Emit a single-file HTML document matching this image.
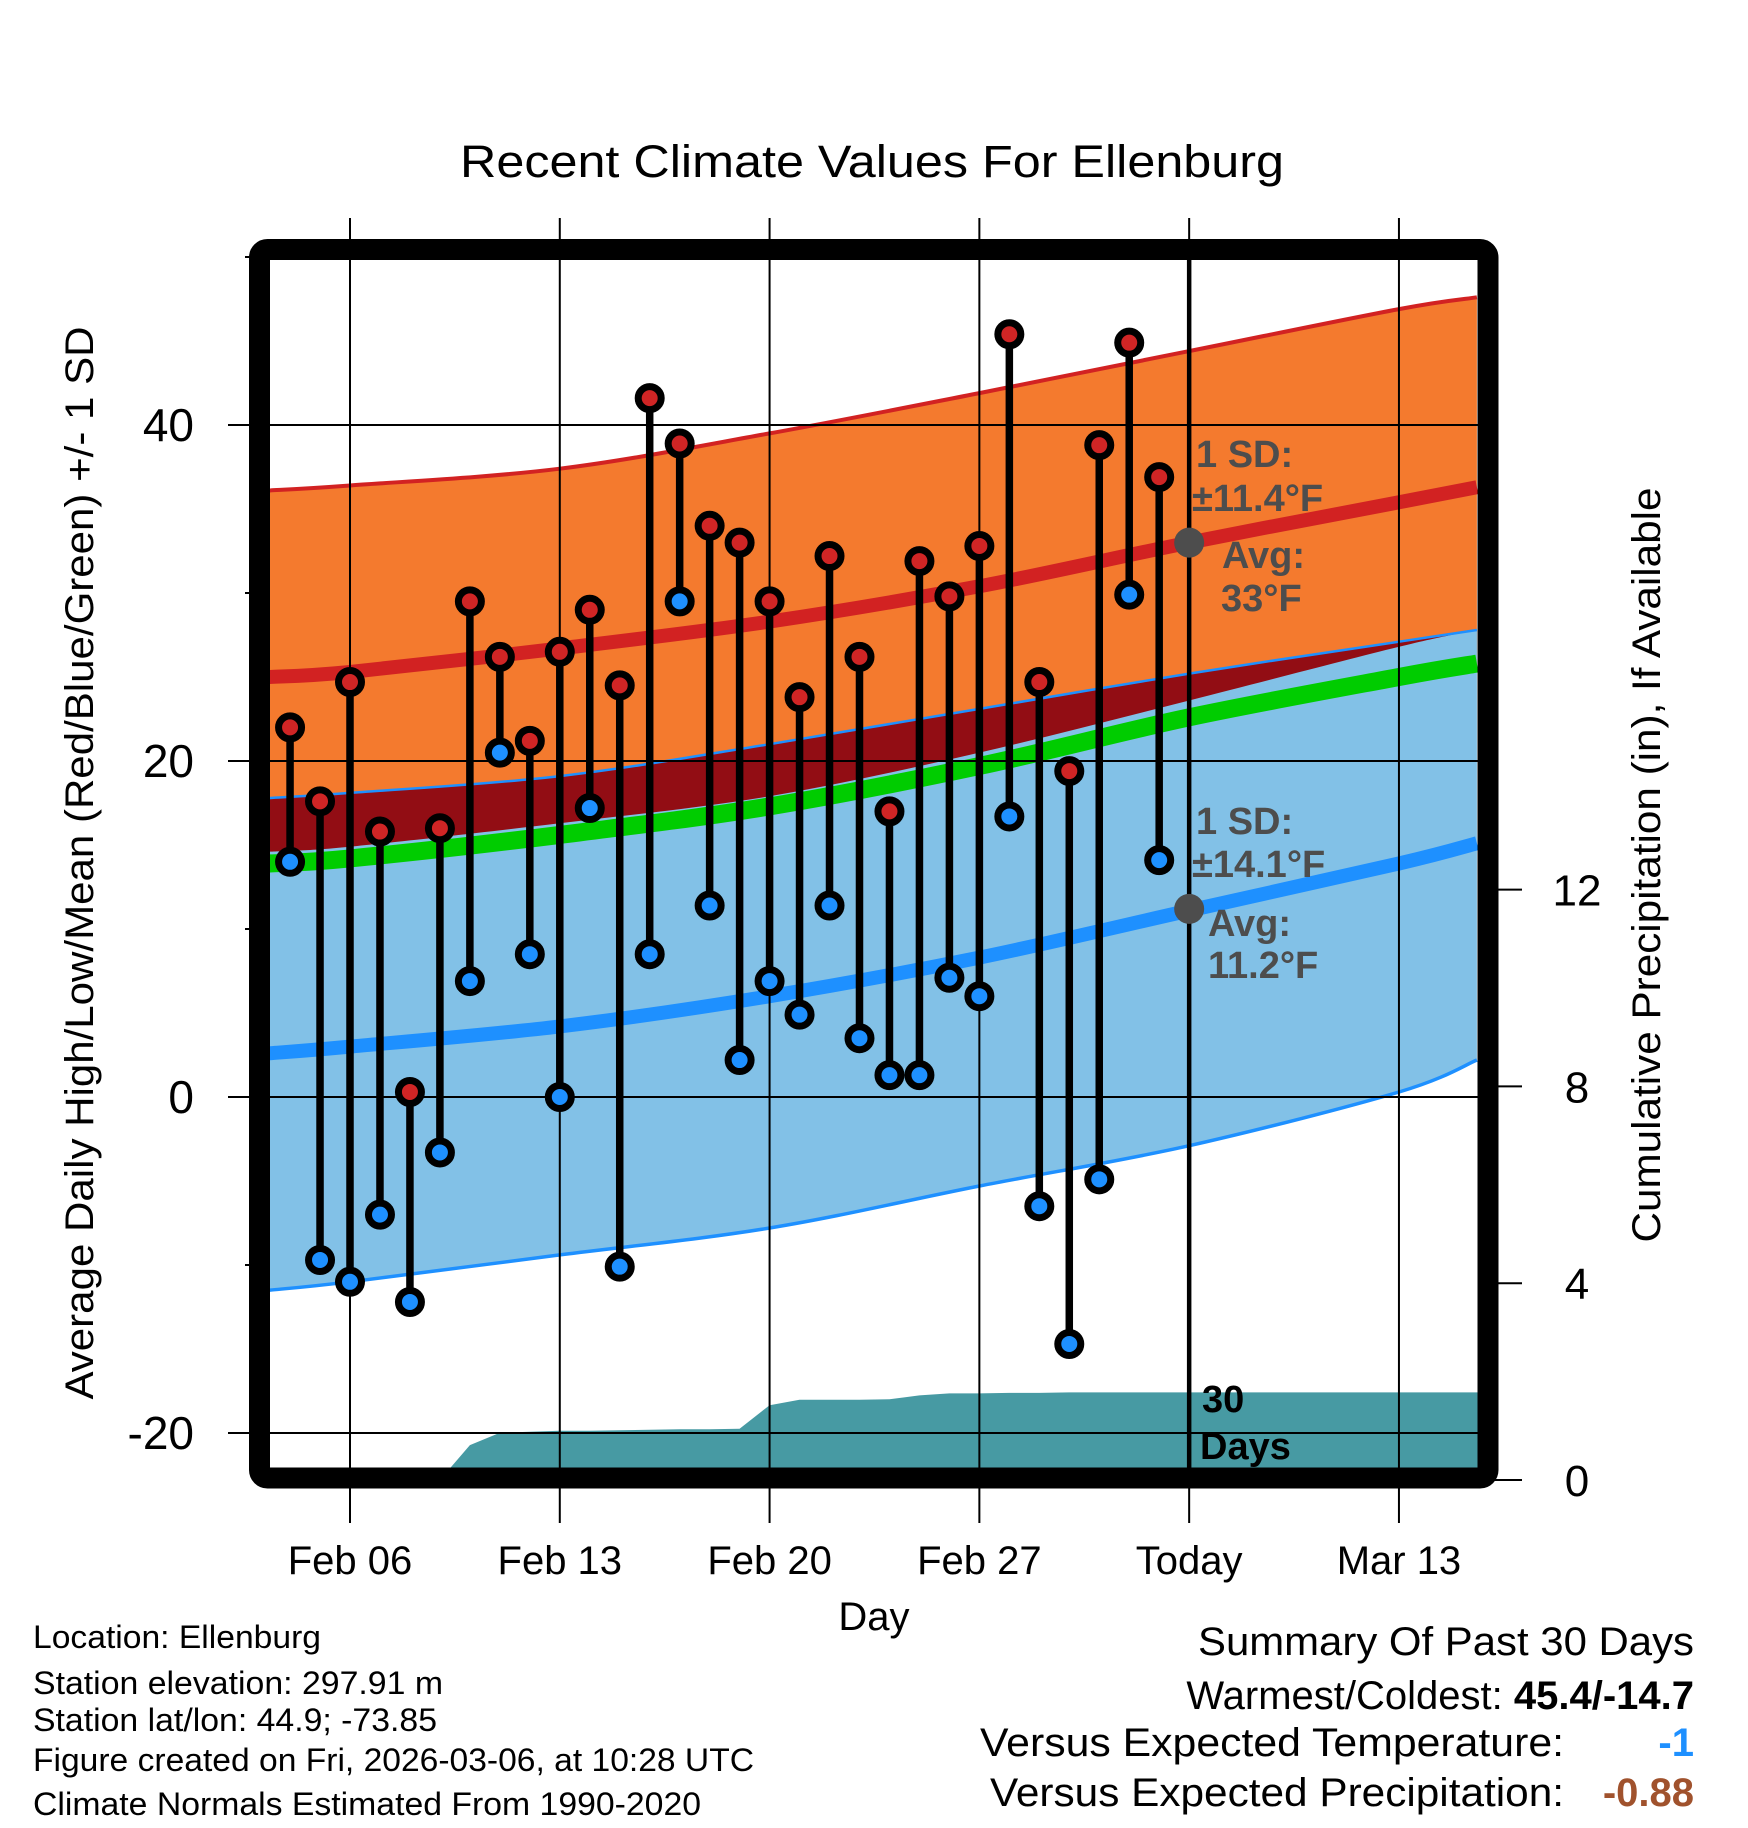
<!DOCTYPE html>
<html><head><meta charset="utf-8"><style>
html,body{margin:0;padding:0;background:#fff;}
svg{display:block;font-family:"Liberation Sans",Arial,sans-serif;}
</style></head><body>
<svg id="chart" xmlns="http://www.w3.org/2000/svg" width="1748" height="1828" viewBox="0 0 1748 1828">
<defs><clipPath id="plotclip"><rect x="270" y="260" width="1208" height="1208"/></clipPath></defs>
<rect width="1748" height="1828" fill="#fff"/>
<text x="872" y="177" font-size="45" text-anchor="middle" textLength="824" lengthAdjust="spacingAndGlyphs">Recent Climate Values For Ellenburg</text>
<g id="fills" clip-path="url(#plotclip)"></g>
<g id="grid"></g>
<g id="marks" clip-path="url(#plotclip)"></g>
<g id="frame"></g>
<g id="labels"></g>
</svg>
<script>
// ---- data ----
const dayLabels = ["Feb 04","Feb 05","Feb 06","Feb 07","Feb 08","Feb 09","Feb 10","Feb 11","Feb 12","Feb 13","Feb 14","Feb 15","Feb 16","Feb 17","Feb 18","Feb 19","Feb 20","Feb 21","Feb 22","Feb 23","Feb 24","Feb 25","Feb 26","Feb 27","Feb 28","Mar 01","Mar 02","Mar 03","Mar 04","Mar 05"];
const dayOffsets = [-2,-1,0,1,2,3,4,5,6,7,8,9,10,11,12,13,14,15,16,17,18,19,20,21,22,23,24,25,26,27];
const highs = [22.0,17.6,24.7,15.8,0.3,16.0,29.5,26.2,21.2,26.5,29.0,24.5,41.6,38.9,34.0,33.0,29.5,23.8,32.2,26.2,17.0,31.9,29.8,32.8,45.4,24.7,19.4,38.8,44.9,36.9];
const lows = [14.0,-9.7,-11.0,-7.0,-12.2,-3.3,6.9,20.5,8.5,0.0,17.2,-10.1,8.5,29.5,11.4,2.2,6.9,4.9,11.4,3.5,1.3,1.3,7.1,6.0,16.7,-6.5,-14.7,-4.9,29.9,14.1];
const normDays = [-2.7,0,7,14,21,28,35,37.6];
const highMean = [25.0,25.3,26.7,28.3,30.4,33.0,35.4,36.3];
const highUpper = [36.1,36.4,37.4,39.5,41.9,44.4,46.9,47.6];
const highLower = [13.9,14.2,15.6,17.3,19.7,22.6,25.0,25.8];
const overlapBottom = [14.6,14.9,16.3,17.9,20.5,23.6,26.8,27.8];
const lowMean = [2.6,3.0,4.2,6.0,8.3,11.1,13.9,15.1];
const lowLower = [-11.5,-11.0,-9.4,-7.8,-5.3,-2.9,0.3,2.2];
const lowUpper = [17.8,18.1,19.1,21.0,23.1,25.2,27.1,27.8];
const precipDays = [3,4,5,6,7,8,9,10,11,12,13,14,15,16,17,18,19,20,21,22,23,24,25,26,27,28,37.7];
const precipCum = [0,0.71,0.96,0.98,1.0,1.0,1.01,1.02,1.03,1.03,1.04,1.52,1.63,1.63,1.63,1.64,1.72,1.76,1.76,1.77,1.77,1.78,1.78,1.78,1.78,1.78,1.78];
const xTickDays = [0,7,14,21,28,35];
const xTickLabels = ["Feb 06","Feb 13","Feb 20","Feb 27","Today","Mar 13"];
const yTicks = [-20,0,20,40];
const yMinor = [-10,10,30,50];
const pTicks = [0,4,8,12];

// ---- scales ----
const X = d => 350 + d*29.97;
const Y = t => 1097 - t*16.8;
const P = p => 1480 - p*49.2;
const NS="http://www.w3.org/2000/svg";
function mk(tag, attrs, parent){const e=document.createElementNS(NS,tag);for(const k in attrs)e.setAttribute(k,attrs[k]);parent.appendChild(e);return e;}
const fills=document.getElementById('fills'), grid=document.getElementById('grid'), marks=document.getElementById('marks'), frame=document.getElementById('frame'), labels=document.getElementById('labels');
function smooth(arr, rev){
  let p=normDays.map((d,i)=>[X(d),Y(arr[i])]);
  if(rev) p=p.reverse();
  let s='';
  for(let i=0;i<p.length-1;i++){
    const p0=p[i-1]||p[i], p1=p[i], p2=p[i+1], p3=p[i+2]||p2;
    const c1=[p1[0]+(p2[0]-p0[0])/6, p1[1]+(p2[1]-p0[1])/6];
    const c2=[p2[0]-(p3[0]-p1[0])/6, p2[1]-(p3[1]-p1[1])/6];
    s+=' C'+c1[0].toFixed(1)+','+c1[1].toFixed(1)+' '+c2[0].toFixed(1)+','+c2[1].toFixed(1)+' '+p2[0].toFixed(1)+','+p2[1].toFixed(1);
  }
  return {start:p[0], s:s};
}
function band(top,bot,fill,name){
  const a=smooth(top,false), b=smooth(bot,true);
  const d='M'+a.start[0].toFixed(1)+','+a.start[1].toFixed(1)+a.s+' L'+b.start[0].toFixed(1)+','+b.start[1].toFixed(1)+b.s+' Z';
  const e=mk('path',{d:d,fill:fill},fills);
  
  
}
function line(arr,color,w,name){
  const a=smooth(arr,false);
  const e=mk('path',{d:'M'+a.start[0].toFixed(1)+','+a.start[1].toFixed(1)+a.s,fill:'none',stroke:color,'stroke-width':w},fills);
  
  
}
band(highUpper,highLower,'#f47a2e','high-sd-band');
band(lowUpper,lowLower,'#82c1e7','low-sd-band');
band(lowUpper,overlapBottom,'#920d14','overlap-band');
line(highUpper,'#d22222',4,'high-upper-line');
line(lowUpper,'#1e90ff',2.5,'low-upper-line');
line(lowLower,'#1e90ff',3.5,'low-lower-line');
line(highLower,'#00cc00',18,'green-mean-line');
line(highMean,'#d22222',14,'high-mean-line');
line(lowMean,'#1e90ff',14,'low-mean-line');
{
  let p=precipDays.map((d,i)=>X(d).toFixed(1)+','+P(precipCum[i]).toFixed(1));
  p.push(X(37.7).toFixed(1)+','+P(0)); p.push(X(3)+','+P(0));
  const e=mk('polygon',{points:p.join(' '),fill:'#479aa3'},fills);
  
  
}
xTickDays.forEach((d,i)=>{
  const e=mk('line',{x1:X(d),x2:X(d),y1:218,y2:1523,stroke:'#000','stroke-width':2},grid);
  
  
  const t=mk('text',{x:X(d),y:1574,'font-size':40,'text-anchor':'middle'},labels);
  t.textContent=xTickLabels[i];
  
  
});
yTicks.forEach(v=>{
  const e=mk('line',{x1:228,x2:1478,y1:Y(v),y2:Y(v),stroke:'#000','stroke-width':2},grid);
  
  
  const t=mk('text',{x:194,y:Y(v)+16,'font-size':46,'text-anchor':'end'},labels);
  t.textContent=String(v);
  
  
});
yMinor.forEach(v=>{
  const e=mk('line',{x1:245,x2:262,y1:Y(v),y2:Y(v),stroke:'#000','stroke-width':2},grid);
  
  
});
pTicks.forEach(v=>{
  const e=mk('line',{x1:1490,x2:1522,y1:P(v),y2:P(v),stroke:'#000','stroke-width':2},grid);
  
  
  const t=mk('text',{x:1577,y:P(v)+16,'font-size':44,'text-anchor':'middle'},labels);
  t.textContent=String(v);
  
  
});
{
  const e=mk('line',{x1:X(28),x2:X(28),y1:260,y2:1470,stroke:'#000','stroke-width':4.5},marks);
  
  
}
[[33.0,'high-avg-dot'],[11.2,'low-avg-dot']].forEach(a=>{
  const e=mk('circle',{cx:X(28),cy:Y(a[0]),r:15,fill:'#4d4d4d'},marks);
  
  
});
dayOffsets.forEach((d,i)=>{
  const x=X(d);
  const s=mk('line',{x1:x,x2:x,y1:Y(highs[i]),y2:Y(lows[i]),stroke:'#000','stroke-width':7.5},marks);
  
  
});
dayOffsets.forEach((d,i)=>{
  const x=X(d);
  const h=mk('circle',{cx:x,cy:Y(highs[i]),r:11.5,fill:'#d02525',stroke:'#000','stroke-width':7},marks);
  
  
  const l=mk('circle',{cx:x,cy:Y(lows[i]),r:11.5,fill:'#1e90ff',stroke:'#000','stroke-width':7},marks);
  
  
});
{
  const e=mk('rect',{x:259.5,y:249.5,width:1228.5,height:1228.5,rx:8,fill:'none',stroke:'#000','stroke-width':21},frame);
  
  
}
function txt(x,y,s,attrs,name){
  const t=mk('text',Object.assign({x:x,y:y},attrs),labels);
  t.textContent=s;
  
  
  return t;
}
const ann={'font-size':38,'font-weight':'bold',fill:'#4d4d4d'};
txt(1196,467,'1 SD:',ann,'high-sd-label');
txt(1192,511,'±11.4°F',ann,'high-sd-value');
txt(1222,568,'Avg:',ann,'high-avg-label');
txt(1221,611,'33°F',ann,'high-avg-value');
txt(1196,834,'1 SD:',ann,'low-sd-label');
txt(1192,877,'±14.1°F',ann,'low-sd-value');
txt(1208,936,'Avg:',ann,'low-avg-label');
txt(1208,978,'11.2°F',ann,'low-avg-value');
txt(1202,1412,'30',{'font-size':38,'font-weight':'bold'},'days-count-label');
txt(1200,1459,'Days',{'font-size':38,'font-weight':'bold'},'days-unit-label');
txt(874,1630,'Day',{'font-size':40,'text-anchor':'middle'},'x-axis-title');
txt(0,0,'Average Daily High/Low/Mean (Red/Blue/Green) +/- 1 SD',{'font-size':40,'text-anchor':'middle',transform:'translate(93,863) rotate(-90)',textLength:1073,lengthAdjust:'spacingAndGlyphs'},'y-axis-title');
txt(0,0,'Cumulative Precipitation (in), If Available',{'font-size':40,'text-anchor':'middle',transform:'translate(1660,865) rotate(-90)',textLength:755,lengthAdjust:'spacingAndGlyphs'},'precip-axis-title');
[['Location: Ellenburg',1648,288,'location-text'],['Station elevation: 297.91 m',1694,410,'elevation-text'],['Station lat/lon: 44.9; -73.85',1731,404,'latlon-text'],['Figure created on Fri, 2026-03-06, at 10:28 UTC',1771,721,'created-text'],['Climate Normals Estimated From 1990-2020',1815,668,'normals-text']].forEach(a=>{
  txt(33,a[1],a[0],{'font-size':32,textLength:a[2],lengthAdjust:'spacingAndGlyphs'},a[3]);
});
txt(1694,1655,'Summary Of Past 30 Days',{'font-size':40,'text-anchor':'end',textLength:496,lengthAdjust:'spacingAndGlyphs'},'summary-title');
{
  const t=txt(1694,1709,'',{'font-size':40,'text-anchor':'end'},'warmest-coldest');
  const a=document.createElementNS(NS,'tspan');a.textContent='Warmest/Coldest: ';t.appendChild(a);
  const b=document.createElementNS(NS,'tspan');b.textContent='45.4/-14.7';b.setAttribute('font-weight','bold');t.appendChild(b);
}
txt(1564,1756,'Versus Expected Temperature:',{'font-size':40,'text-anchor':'end',textLength:584,lengthAdjust:'spacingAndGlyphs'},'temp-departure-label');
txt(1694,1756,'-1',{'font-size':40,'text-anchor':'end','font-weight':'bold',fill:'#1e90ff'},'temp-departure-value');
txt(1564,1806,'Versus Expected Precipitation:',{'font-size':40,'text-anchor':'end',textLength:574,lengthAdjust:'spacingAndGlyphs'},'precip-departure-label');
txt(1694,1806,'-0.88',{'font-size':40,'text-anchor':'end','font-weight':'bold',fill:'#a0522d'},'precip-departure-value');
</script>
</body></html>
